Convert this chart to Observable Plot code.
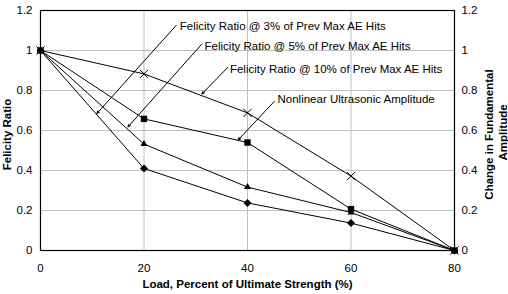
<!DOCTYPE html>
<html><head><meta charset="utf-8">
<script src="https://cdn.jsdelivr.net/npm/d3@7"></script>
<script src="https://cdn.jsdelivr.net/npm/@observablehq/plot@0.6"></script>
<style>body{margin:0;background:#fff}</style>
</head><body><div id="chart"></div>
<script>
// Data
const loads = [0, 20, 40, 60, 80];
const fr3  = [1, 0.41, 0.238, 0.137, 0];   // Felicity Ratio @ 3%  (diamond)
const fr5  = [1, 0.532, 0.317, 0.19, 0];   // Felicity Ratio @ 5%  (triangle)
const fr10 = [1, 0.883, 0.688, 0.372, 0];  // Felicity Ratio @ 10% (x)
const nua  = [1, 0.658, 0.54, 0.207, 0];   // Nonlinear Ultrasonic Amplitude (square)
const xTicks = [0, 20, 40, 60, 80];
const yTicks = [0, 0.2, 0.4, 0.6, 0.8, 1, 1.2];
const yTickLabels = ["0", "0.2", "0.4", "0.6", "0.8", "1", "1.2"];

// Annotations (data coordinates)
const annLabels = ["Felicity Ratio @ 3% of Prev Max AE Hits", "Felicity Ratio @ 5% of Prev Max AE Hits",
                   "Felicity Ratio @ 10% of Prev Max AE Hits", "Nonlinear Ultrasonic Amplitude"];
const annTextX = [26.9, 31.7, 36.6, 45.8];
const annTextY = [1.121, 1.021, 0.908, 0.755];
const annFromX = [26.2, 31.2, 36.2, 45.2];
const annFromY = [1.125, 1.033, 0.916, 0.746];
const annToX   = [10.9, 16.9, 31.2, 38.2];
const annToY   = [0.685, 0.618, 0.783, 0.553];

const rows = vals => loads.map((x, i) => ({x, y: vals[i]}));
const ann = annLabels.map((t, i) => ({t, tx: annTextX[i], ty: annTextY[i], x1: annFromX[i], y1: annFromY[i], x2: annToX[i], y2: annToY[i]}));
const font = "'Liberation Sans', Arial, sans-serif";
const fs = 11.5;

const chart = Plot.plot({
  width: 508, height: 294,
  marginLeft: 40, marginRight: 54, marginTop: 10, marginBottom: 44,
  style: {fontFamily: font, fontSize: fs + "px", background: "white", color: "black"},
  x: {domain: [0, 80]},
  y: {domain: [0, 1.2]},
  marks: [
    Plot.gridY(yTicks, {stroke: "#c0c0c0", strokeOpacity: 1}),
    Plot.gridX([20, 40, 60], {stroke: "#c0c0c0", strokeOpacity: 1}),
    Plot.axisX(xTicks, {tickSize: 0, tickPadding: 13, label: null, fontSize: fs}),
    Plot.axisY(yTicks, {anchor: "left", tickSize: 0, tickPadding: 8, label: null, tickFormat: (d, i) => yTickLabels[i], fontSize: fs}),
    Plot.axisY(yTicks, {anchor: "right", tickSize: 0, tickPadding: 7, label: null, tickFormat: (d, i) => yTickLabels[i], fontSize: fs}),
    Plot.frame({stroke: "black", strokeWidth: 1.2}),
    Plot.line(rows(fr3), {x: "x", y: "y", stroke: "black", strokeWidth: 1}),
    Plot.line(rows(fr5), {x: "x", y: "y", stroke: "black", strokeWidth: 1}),
    Plot.line(rows(fr10), {x: "x", y: "y", stroke: "black", strokeWidth: 1}),
    Plot.line(rows(nua), {x: "x", y: "y", stroke: "black", strokeWidth: 1}),
    Plot.dot(rows(fr3), {x: "x", y: "y", symbol: "diamond2", fill: "black", stroke: "none", r: 3.6}),
    Plot.dot(rows(fr5), {x: "x", y: "y", symbol: "triangle", fill: "black", stroke: "none", r: 2.6}),
    Plot.dot(rows(nua), {x: "x", y: "y", symbol: "square", fill: "black", stroke: "none", r: 3.6}),
    Plot.dot(rows(fr10), {x: "x", y: "y", symbol: "times", stroke: "black", strokeWidth: 1, r: 3.8}),
    Plot.arrow(ann, {x1: "x1", y1: "y1", x2: "x2", y2: "y2", stroke: "black", strokeWidth: 1, headLength: 4, headAngle: 50}),
    Plot.text(ann, {x: "tx", y: "ty", text: "t", textAnchor: "start", fontSize: fs, fill: "black"}),
    Plot.text(["Load, Percent of Ultimate Strength (%)"], {frameAnchor: "bottom", textAnchor: "middle", dy: 37, fontWeight: "bold", fontSize: fs, fill: "black"}),
    Plot.text(["Felicity Ratio"], {frameAnchor: "left", textAnchor: "middle", dx: -33, dy: 4, rotate: -90, fontWeight: "bold", fontSize: fs, fill: "black"}),
    Plot.text(["Change in Fundamental"], {frameAnchor: "right", textAnchor: "middle", dx: 35, dy: 4, rotate: -90, fontWeight: "bold", fontSize: fs, fill: "black"}),
    Plot.text(["Amplitude"], {frameAnchor: "right", textAnchor: "middle", dx: 48.5, dy: 2, rotate: -90, fontWeight: "bold", fontSize: fs, fill: "black"})
  ]
});
document.getElementById("chart").appendChild(chart);
</script>
</body></html>
